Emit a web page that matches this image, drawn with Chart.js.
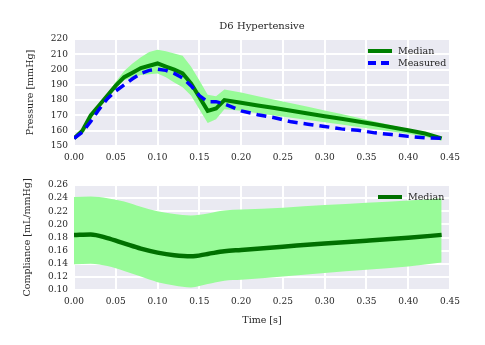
<!DOCTYPE html>
<html>
<head>
<meta charset="utf-8">
<script src="https://cdn.jsdelivr.net/npm/chart.js@4.4.1/dist/chart.umd.min.js"></script>
<style>
  html, body { margin: 0; padding: 0; background: #fff; }
  #wrap { position: relative; width: 485px; height: 345px; }
  .box { position: absolute; left: 0; width: 485px; }
</style>
</head>
<body>
<div id="wrap">
  <div class="box" style="top:0;height:170px"><canvas id="pressure"></canvas></div>
  <div class="box" style="top:170px;height:175px"><canvas id="compliance"></canvas></div>
</div>
<script>
// Pressure panel (time in s, pressure in mmHg)
const pTime = [0, 0.01, 0.02, 0.03, 0.04, 0.05, 0.06, 0.07, 0.08, 0.09, 0.10, 0.11, 0.12, 0.13, 0.14, 0.15, 0.16, 0.17, 0.18,
  0.20, 0.22, 0.24, 0.26, 0.28, 0.30, 0.32, 0.34, 0.36, 0.38, 0.40, 0.42, 0.44];
const pMedian = [155, 160, 170, 176.5, 183, 189.5, 195, 198, 201, 202.5, 204, 202, 200, 197.5, 191, 182, 173, 174.5, 180,
  178.3, 176.5, 174.8, 173, 171.3, 169.5, 167.8, 166, 164.2, 162.3, 160.3, 158.2, 155];
const pUpper = [155.5, 160.5, 170.5, 177.5, 184.5, 192, 199, 204, 208, 211.5, 213, 212, 210.5, 209, 202, 193, 183.5, 182.5, 187,
  185, 182.5, 180.2, 178, 175.7, 173.3, 171, 168.5, 166, 163.5, 161, 158.5, 156];
const pLower = [154.5, 159.5, 169.5, 175.5, 182, 188, 193, 195, 196.5, 197, 197.5, 195, 191.5, 188.5, 183, 174, 165, 167.5, 174,
  173, 171.5, 170, 168.5, 167, 165.5, 164, 162.5, 161, 159.5, 158, 156, 153.5];
const pMeasured = [155, 159, 166, 174, 181, 186, 190, 194, 197.5, 199.5, 200.3, 199.5, 197.5, 194.5, 189.5, 183, 179, 179, 177.5,
  173, 170.5, 168.5, 165.8, 164.3, 162.8, 161.2, 160.3, 158.6, 157.5, 156.3, 155.4, 155];

// Compliance panel (mL/mmHg)
const cTime = [0, 0.02, 0.04, 0.06, 0.08, 0.10, 0.12, 0.14, 0.16, 0.18, 0.20, 0.25, 0.30, 0.35, 0.40, 0.44];
const cMedian = [0.1837, 0.1847, 0.179, 0.171, 0.163, 0.157, 0.153, 0.1513, 0.155, 0.159, 0.161, 0.166, 0.171, 0.175, 0.1795, 0.184];
const cUpper = [0.2416, 0.2426, 0.240, 0.235, 0.227, 0.220, 0.216, 0.2137, 0.2167, 0.221, 0.2225, 0.2255, 0.2295, 0.233, 0.2365, 0.240];
const cLower = [0.1394, 0.140, 0.1365, 0.129, 0.1204, 0.112, 0.107, 0.104, 0.109, 0.114, 0.1155, 0.1205, 0.126, 0.131, 0.136, 0.142];

const xTicks = [0, 0.05, 0.10, 0.15, 0.20, 0.25, 0.30, 0.35, 0.40, 0.45];

const FONT = 'DejaVu Serif';
const TEXT = '#262626';
const BG = '#EAEAF2';
const GREEN = '#008000';
const DARK_GREEN = '#007000';
const BAND = '#98FB98';
const BLUE = '#0000FF';

const pts = (xs, ys) => xs.map((x, i) => ({ x, y: ys[i] }));

// grey plot background (seaborn darkgrid look), title centred over the plot area
const bgPlugin = {
  id: 'bg',
  afterLayout(chart) {
    const t = chart.titleBlock;
    if (t) {
      t.left = chart.chartArea.left;
      t.right = chart.chartArea.right;
      t.width = t.right - t.left;
    }
  },
  beforeDraw(chart) {
    const a = chart.chartArea, ctx = chart.ctx;
    ctx.save();
    ctx.fillStyle = BG;
    ctx.fillRect(a.left, a.top, a.right - a.left, a.bottom - a.top);
    ctx.restore();
  }
};

// legend drawn inside the plot, upper right
const legendPlugin = {
  id: 'inLegend',
  afterDraw(chart, args, opts) {
    const ctx = chart.ctx;
    ctx.save();
    ctx.font = '9.5px "' + FONT + '"';
    ctx.textBaseline = 'middle';
    opts.items.forEach((it, i) => {
      const y = opts.y + i * opts.gap;
      ctx.strokeStyle = it.color;
      ctx.lineWidth = 4;
      ctx.setLineDash(it.dash || []);
      ctx.beginPath();
      ctx.moveTo(opts.x, y);
      ctx.lineTo(opts.x + 24, y);
      ctx.stroke();
      ctx.setLineDash([]);
      ctx.fillStyle = TEXT;
      ctx.fillText(it.label, opts.x + 30, y + 0.5);
    });
    ctx.restore();
  }
};

function xScale(showTitle) {
  return {
    type: 'linear', min: 0, max: 0.45,
    afterBuildTicks: s => { s.ticks = xTicks.map(v => ({ value: v })); },
    afterFit: s => { s.height = showTitle ? 36 : 24; },
    grid: { color: '#fff', lineWidth: 2, drawTicks: false },
    border: { display: false },
    ticks: { color: TEXT, padding: 6, font: { family: FONT, size: 9 }, maxRotation: 0, autoSkip: false,
      callback: v => v.toFixed(2) },
    title: { display: showTitle, text: 'Time [s]', color: TEXT, padding: { top: 4, bottom: 0 },
      font: { family: FONT, size: 9.5 } }
  };
}

function yScale(min, max, step, dec, label, width) {
  return {
    min, max,
    afterFit: s => { s.width = width; },
    grid: { color: '#fff', lineWidth: 2, drawTicks: false },
    border: { display: false },
    ticks: { color: TEXT, padding: 6, stepSize: step, autoSkip: false, font: { family: FONT, size: 9 },
      callback: v => v.toFixed(dec) },
    title: { display: true, text: label, color: TEXT, padding: { top: 0, bottom: 0 },
      font: { family: FONT, size: 9.5 } }
  };
}

const common = {
  responsive: true,
  maintainAspectRatio: false,
  animation: false,
  parsing: false,
  elements: { point: { radius: 0 } }
};

new Chart(document.getElementById('pressure'), {
  type: 'line',
  data: {
    datasets: [
      { label: 'upper', data: pts(pTime, pUpper), borderWidth: 0, backgroundColor: BAND, fill: '+1', order: 3 },
      { label: 'lower', data: pts(pTime, pLower), borderWidth: 0, fill: false, order: 3 },
      { label: 'Median', data: pts(pTime, pMedian), borderColor: GREEN, borderWidth: 4, fill: false, order: 2 },
      { label: 'Measured', data: pts(pTime, pMeasured), borderColor: BLUE, borderWidth: 3.5,
        borderDash: [10, 6], fill: false, order: 1 }
    ]
  },
  options: {
    ...common,
    layout: { padding: { left: 25, right: 35, top: 0, bottom: 0 } },
    plugins: {
      legend: { display: false },
      tooltip: { enabled: false },
      filler: { drawTime: 'beforeDatasetsDraw' },
      title: { display: true, text: 'D6 Hypertensive', color: TEXT,
        font: { family: FONT, size: 10, weight: 'normal' }, padding: { top: 20, bottom: 7 } },
      inLegend: { x: 368, y: 51, gap: 12, items: [
        { label: 'Median', color: GREEN },
        { label: 'Measured', color: BLUE, dash: [8, 5] }
      ] }
    },
    scales: { x: xScale(false), y: yScale(150, 220, 10, 0, 'Pressure [mmHg]', 49) }
  },
  plugins: [bgPlugin, legendPlugin]
});

new Chart(document.getElementById('compliance'), {
  type: 'line',
  data: {
    datasets: [
      { label: 'upper', data: pts(cTime, cUpper), borderWidth: 0, backgroundColor: BAND, fill: '+1',
        cubicInterpolationMode: 'monotone', order: 3 },
      { label: 'lower', data: pts(cTime, cLower), borderWidth: 0, fill: false,
        cubicInterpolationMode: 'monotone', order: 3 },
      { label: 'Median', data: pts(cTime, cMedian), borderColor: DARK_GREEN, borderWidth: 4.5, fill: false,
        cubicInterpolationMode: 'monotone', order: 1 }
    ]
  },
  options: {
    ...common,
    layout: { padding: { left: 22, right: 35, top: 15, bottom: 19 } },
    plugins: {
      legend: { display: false },
      tooltip: { enabled: false },
      filler: { drawTime: 'beforeDatasetsDraw' },
      inLegend: { x: 378, y: 27, gap: 12, items: [ { label: 'Median', color: DARK_GREEN } ] }
    },
    scales: { x: xScale(true), y: yScale(0.10, 0.26, 0.02, 2, 'Compliance [mL/mmHg]', 52) }
  },
  plugins: [bgPlugin, legendPlugin]
});
</script>
</body>
</html>
